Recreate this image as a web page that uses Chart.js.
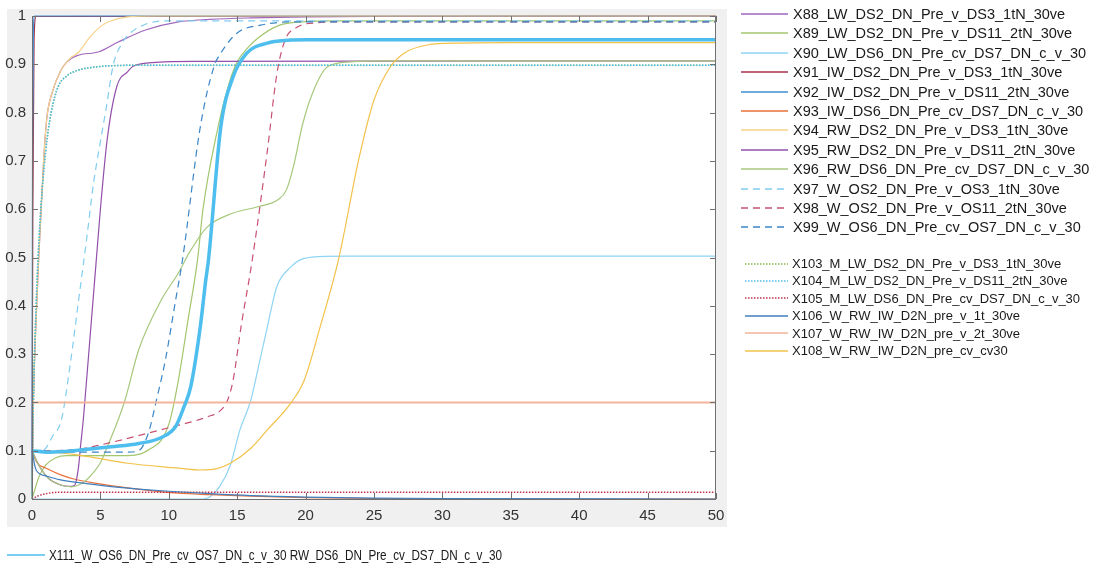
<!DOCTYPE html>
<html>
<head>
<meta charset="utf-8">
<script src="https://cdn.jsdelivr.net/npm/chart.js@4.4.1/dist/chart.umd.min.js"></script>
<style>
html,body{margin:0;padding:0;background:#fff;}
canvas{display:block;}
</style>
</head>
<body>
<canvas id="c" width="1098" height="570"></canvas>
<script>
// ---------- DATA ----------
const xTickLabels = ['0','5','10','15','20','25','30','35','40','45','50'];
const yTickLabels = ['0','0.1','0.2','0.3','0.4','0.5','0.6','0.7','0.8','0.9','1'];

const seriesNames = [
  'X88_LW_DS2_DN_Pre_v_DS3_1tN_30ve',
  'X89_LW_DS2_DN_Pre_v_DS11_2tN_30ve',
  'X90_LW_DS6_DN_Pre_cv_DS7_DN_c_v_30',
  'X91_IW_DS2_DN_Pre_v_DS3_1tN_30ve',
  'X92_IW_DS2_DN_Pre_v_DS11_2tN_30ve',
  'X93_IW_DS6_DN_Pre_cv_DS7_DN_c_v_30',
  'X94_RW_DS2_DN_Pre_v_DS3_1tN_30ve',
  'X95_RW_DS2_DN_Pre_v_DS11_2tN_30ve',
  'X96_RW_DS6_DN_Pre_cv_DS7_DN_c_v_30',
  'X97_W_OS2_DN_Pre_v_OS3_1tN_30ve',
  'X98_W_OS2_DN_Pre_v_OS11_2tN_30ve',
  'X99_W_OS6_DN_Pre_cv_OS7_DN_c_v_30',
  'X103_M_LW_DS2_DN_Pre_v_DS3_1tN_30ve',
  'X104_M_LW_DS2_DN_Pre_v_DS11_2tN_30ve',
  'X105_M_LW_DS6_DN_Pre_cv_DS7_DN_c_v_30',
  'X106_W_RW_IW_D2N_pre_v_1t_30ve',
  'X107_W_RW_IW_D2N_pre_v_2t_30ve',
  'X108_W_RW_IW_D2N_pre_cv_cv30',
  'X111_W_OS6_DN_Pre_cv_OS7_DN_c_v_30 RW_DS6_DN_Pre_cv_DS7_DN_c_v_30'
];

const x88 = [0, 0.1, 0.27, 0.46, 0.6, 0.85, 1.09, 1.46, 2.07, 2.55, 3.3, 4.9, 6.3, 8.3, 10.7, 13, 16, 20, 25, 50];
const y88 = [0, 0.2, 0.35, 0.48, 0.56, 0.70, 0.79, 0.84, 0.885, 0.905, 0.918, 0.926, 0.946, 0.971, 0.988, 0.993, 0.996, 0.998, 0.999, 1.0];

const x89 = [0, 0.5, 1, 1.7, 2.5, 4, 7, 8, 8.7, 9.45, 10.1, 10.7, 11.4, 12.1, 12.5, 13.5, 14.4, 15, 15.8, 16.5, 18.1, 19.8, 22, 50];
const y89 = [0, 0.045, 0.07, 0.085, 0.09, 0.09, 0.09, 0.094, 0.105, 0.122, 0.164, 0.246, 0.37, 0.495, 0.6, 0.757, 0.86, 0.905, 0.935, 0.954, 0.981, 0.988, 0.99, 0.99];

const x90 = [0, 5, 10, 12.5, 13, 13.7, 14.5, 15.2, 16, 16.6, 17.2, 17.9, 18.9, 19.6, 21, 23, 50];
const y90 = [0, 0, 0, 0, 0.004, 0.025, 0.07, 0.143, 0.205, 0.28, 0.356, 0.44, 0.48, 0.495, 0.502, 0.503, 0.503];

const x91 = [0, 0.06, 0.15, 0.3, 50];
const y91 = [0, 0.6, 0.95, 0.999, 1.0];

const x92 = [0, 0.04, 0.1, 0.2, 50];
const y92 = [0, 0.7, 0.97, 1.0, 1.0];

const x93 = [0, 0.4, 1, 2.1, 3, 4.6, 7, 10.7, 13, 16, 20, 25, 30, 50];
const y93 = [0.1, 0.074, 0.064, 0.05, 0.042, 0.033, 0.023, 0.012, 0.009, 0.006, 0.003, 0.001, 0, 0];

const x94 = [0, 0.1, 0.27, 0.46, 0.6, 0.85, 1.09, 1.46, 2.07, 2.55, 2.9, 3.4, 4.2, 5.0, 5.6, 7, 9, 50];
const y94 = [0, 0.2, 0.35, 0.48, 0.56, 0.70, 0.79, 0.84, 0.885, 0.905, 0.915, 0.925, 0.955, 0.978, 0.988, 0.998, 1.0, 1.0];

const x95 = [0, 0.5, 1.2, 2.0, 2.7, 3.1, 3.4, 3.55, 3.75, 4.2, 4.7, 5.0, 5.5, 6.2, 7.0, 7.4, 9.1, 12, 50];
const y95 = [0.1, 0.07, 0.043, 0.03, 0.026, 0.028, 0.066, 0.11, 0.164, 0.32, 0.495, 0.6, 0.745, 0.854, 0.885, 0.896, 0.904, 0.906, 0.907];

const x96 = [0, 0.5, 1.2, 2, 2.9, 3.5, 4, 4.5, 5, 5.5, 6.3, 6.8, 7.8, 9.45, 10.7, 11.5, 12.8, 14.7, 16.5, 18.0, 18.6, 19.1, 19.8, 20.6, 21.6, 23.3, 26, 50];
const y96 = [0.1, 0.07, 0.043, 0.03, 0.025, 0.03, 0.04, 0.055, 0.075, 0.108, 0.164, 0.205, 0.309, 0.412, 0.468, 0.51, 0.563, 0.592, 0.605, 0.62, 0.64, 0.687, 0.778, 0.847, 0.895, 0.905, 0.907, 0.907];

const x97 = [0, 0.5, 1, 1.5, 2.15, 2.8, 3.4, 4.0, 4.5, 5.0, 5.4, 5.95, 6.5, 7.0, 8.3, 10, 13, 50];
const y97 = [0.1, 0.097, 0.105, 0.13, 0.164, 0.28, 0.41, 0.54, 0.654, 0.74, 0.805, 0.9, 0.94, 0.96, 0.983, 0.99, 0.99, 0.99];

const x98 = [0, 1, 3.4, 5, 9.9, 12.8, 13.8, 14.3, 14.7, 15.3, 16.1, 17.2, 17.9, 18.5, 19.4, 20.8, 23, 50];
const y98 = [0.1, 0.1, 0.103, 0.112, 0.147, 0.17, 0.184, 0.205, 0.246, 0.36, 0.495, 0.72, 0.88, 0.95, 0.977, 0.986, 0.988, 0.988];

const x99 = [0, 1, 3.4, 7, 7.8, 8.5, 9.1, 9.75, 10.5, 11, 12.3, 13.3, 13.8, 15, 16.7, 19, 50];
const y99 = [0.1, 0.096, 0.097, 0.097, 0.1, 0.136, 0.205, 0.288, 0.412, 0.495, 0.77, 0.895, 0.923, 0.965, 0.981, 0.988, 0.988];

const x103 = [0, 0.1, 0.3, 0.6, 1.0, 1.4, 1.9, 2.5, 3.4, 4.5, 5.8, 8, 50];
const y103 = [0, 0.2, 0.4, 0.58, 0.72, 0.8, 0.853, 0.875, 0.888, 0.894, 0.897, 0.898, 0.898];

const x104 = [0, 0.1, 0.3, 0.6, 1.0, 1.4, 1.9, 2.5, 3.4, 4.5, 5.8, 8, 50];
const y104 = [0, 0.2, 0.4, 0.58, 0.72, 0.8, 0.853, 0.875, 0.888, 0.894, 0.897, 0.898, 0.898];

const x105 = [0, 0.5, 1.2, 2, 3, 50];
const y105 = [0, 0.007, 0.012, 0.014, 0.014, 0.014];

const x106 = [0, 0.3, 1, 2, 4, 6, 8, 10, 13, 16, 20, 25, 30, 50];
const y106 = [0.1, 0.06, 0.048, 0.04, 0.032, 0.025, 0.02, 0.016, 0.011, 0.007, 0.004, 0.002, 0.001, 0];

const x107 = [0, 50];
const y107 = [0.2, 0.2];

const x108 = [0, 3.4, 7, 10.7, 12.3, 13.5, 14.5, 16, 17.2, 18.9, 19.9, 21, 22.4, 23.9, 25, 26.2, 27.2, 28.9, 31.3, 35, 50];
const y108 = [0.1, 0.091, 0.074, 0.064, 0.06, 0.063, 0.074, 0.105, 0.143, 0.198, 0.246, 0.35, 0.495, 0.705, 0.826, 0.895, 0.923, 0.94, 0.944, 0.945, 0.945];

const x111 = [0, 1.2, 3.4, 5.8, 7.8, 9.5, 10.5, 11.1, 11.6, 12.3, 12.7, 12.9, 13.8, 14.7, 15.7, 17.2, 18.7, 20, 50];
const y111 = [0.1, 0.097, 0.101, 0.108, 0.115, 0.128, 0.15, 0.19, 0.232, 0.356, 0.453, 0.495, 0.77, 0.874, 0.923, 0.944, 0.95, 0.951, 0.951];

const seriesX = [x88, x89, x90, x91, x92, x93, x94, x95, x96, x97, x98, x99, x103, x104, x105, x106, x107, x108, x111];
const seriesY = [y88, y89, y90, y91, y92, y93, y94, y95, y96, y97, y98, y99, y103, y104, y105, y106, y107, y108, y111];

// ---------- STYLES ----------
const FONT = "'Liberation Sans', Arial, sans-serif";
const styles = [
  {c:'#a066bb', w:1.2, d:[]},
  {c:'#a3c66e', w:1.2, d:[]},
  {c:'#8fd4f3', w:1.2, d:[]},
  {c:'#a8304a', w:1.2, d:[]},
  {c:'#3f8fd4', w:1.2, d:[]},
  {c:'#e8703a', w:1.2, d:[]},
  {c:'#f6d28a', w:1.2, d:[]},
  {c:'#9350ab', w:1.2, d:[]},
  {c:'#a7c87c', w:1.2, d:[]},
  {c:'#80cdf0', w:1.2, d:[7,5]},
  {c:'#c85272', w:1.2, d:[7,5]},
  {c:'#3a86c8', w:1.2, d:[7,5]},
  {c:'#8ab84a', w:1.5, d:[1.5,1.5]},
  {c:'#4dbeee', w:1.5, d:[1.5,1.5]},
  {c:'#c0304a', w:1.5, d:[1.5,1.5]},
  {c:'#3f7fbf', w:1.2, d:[]},
  {c:'#f2b49a', w:2, d:[]},
  {c:'#f2c24a', w:1.2, d:[]},
  {c:'#4dbeee', w:3.5, d:[]}
];

const datasets = seriesX.map((xs, i) => ({
  label: seriesNames[i],
  data: xs.map((x, k) => ({x: x, y: seriesY[i][k]})),
  borderColor: styles[i].c,
  borderWidth: styles[i].w,
  borderDash: styles[i].d,
  pointRadius: 0,
  pointHoverRadius: 0,
  fill: false,
  cubicInterpolationMode: 'monotone',
  order: -i,
  clip: 4
}));

const framePlugin = {
  id: 'frame',
  beforeDraw(chart) {
    const ctx = chart.ctx, a = chart.chartArea;
    ctx.save();
    ctx.fillStyle = '#ffffff';
    ctx.fillRect(0, 0, chart.width, chart.height);
    ctx.fillStyle = '#f0f0f0';
    ctx.fillRect(7, 9, 720, 518);
    ctx.fillStyle = '#ffffff';
    ctx.fillRect(a.left, a.top, a.right - a.left, a.bottom - a.top);
    ctx.restore();
  },
  afterDatasetsDraw(chart) {
    const ctx = chart.ctx, a = chart.chartArea;
    const xs = chart.scales.x, ys = chart.scales.y;
    ctx.save();
    ctx.strokeStyle = '#707070';
    ctx.lineWidth = 1;
    ctx.setLineDash([]);
    ctx.beginPath();
    ctx.moveTo(Math.round(a.left) + 0.5, Math.round(a.top));
    ctx.lineTo(Math.round(a.left) + 0.5, Math.round(a.bottom) + 0.5);
    ctx.lineTo(Math.round(a.right) - 0.5, Math.round(a.bottom) + 0.5);
    ctx.lineTo(Math.round(a.right) - 0.5, Math.round(a.top));
    ctx.stroke();
    ctx.beginPath();
    xs.ticks.forEach(t => {
      const px = Math.round(xs.getPixelForValue(t.value)) + 0.5;
      ctx.moveTo(px, a.bottom); ctx.lineTo(px, a.bottom - 6);
      ctx.moveTo(px, a.top); ctx.lineTo(px, a.top + 6);
    });
    ys.ticks.forEach(t => {
      const py = Math.round(ys.getPixelForValue(t.value)) + 0.5;
      ctx.moveTo(a.left, py); ctx.lineTo(a.left + 6, py);
      ctx.moveTo(a.right, py); ctx.lineTo(a.right - 6, py);
    });
    ctx.stroke();
    ctx.restore();
  },
  afterDraw(chart) {
    const ctx = chart.ctx;
    ctx.save();
    ctx.textBaseline = 'middle';
    ctx.textAlign = 'left';
    ctx.fillStyle = '#1a1a1a';
    const ds = chart.data.datasets;
    const drawEntry = (i, x1, x2, tx, y, size, targetW) => {
      ctx.save();
      ctx.strokeStyle = ds[i].borderColor;
      ctx.lineWidth = 1.6;
      ctx.setLineDash(ds[i].borderDash.length ? ds[i].borderDash : []);
      ctx.beginPath();
      ctx.moveTo(x1, Math.round(y));
      ctx.lineTo(x2, Math.round(y));
      ctx.stroke();
      ctx.restore();
      ctx.font = size + 'px ' + FONT;
      if (targetW) {
        const w = ctx.measureText(ds[i].label).width;
        ctx.save();
        ctx.translate(tx, y + 1);
        ctx.scale(targetW / w, 1);
        ctx.fillText(ds[i].label, 0, 0);
        ctx.restore();
      } else {
        ctx.fillText(ds[i].label, tx, y + 1);
      }
    };
    for (let i = 0; i < 12; i++) drawEntry(i, 741, 788, 793, 14 + i * 19.4, 14.5);
    for (let i = 12; i < 18; i++) drawEntry(i, 745, 788, 792, 263.5 + (i - 12) * 17.4, 13);
    drawEntry(18, 7, 45, 49, 555, 14.5, 453);
    ctx.restore();
  }
};

new Chart(document.getElementById('c'), {
  type: 'line',
  data: { datasets: datasets },
  options: {
    responsive: false,
    animation: false,
    events: [],
    layout: { padding: { left: 0, top: 16, right: 382, bottom: 31 } },
    plugins: { legend: { display: false }, tooltip: { enabled: false } },
    scales: {
      x: {
        type: 'linear', min: 0, max: 50,
        grid: { display: false, drawTicks: false },
        border: { display: false },
        ticks: {
          stepSize: 5, padding: 8, maxRotation: 0, autoSkip: false,
          color: '#333333', font: { size: 15, family: FONT },
          callback: (v, i) => xTickLabels[i]
        },
        afterFit: s => { s.height = 40; }
      },
      y: {
        type: 'linear', min: 0, max: 1,
        grid: { display: false, drawTicks: false },
        border: { display: false },
        ticks: {
          stepSize: 0.1, padding: 6, autoSkip: false,
          color: '#333333', font: { size: 15, family: FONT },
          callback: (v, i) => yTickLabels[i]
        },
        afterFit: s => { s.width = 32; }
      }
    }
  },
  plugins: [framePlugin]
});
</script>
</body>
</html>
